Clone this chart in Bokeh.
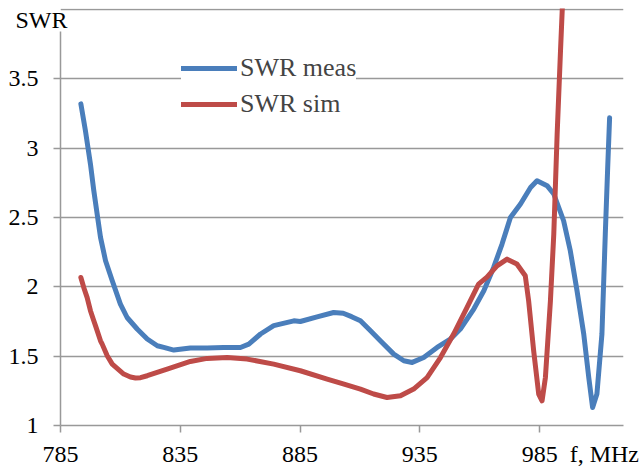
from bokeh.plotting import figure
from bokeh.models import (Range1d, FixedTicker, CustomJSTickFormatter, Legend, LegendItem)
from bokeh.embed import file_html
from bokeh.resources import INLINE

freq_meas = [793.5, 795.4, 797.5, 798.9, 800.3, 801.7, 803.8, 806.6, 810.0, 812.8, 817.0, 821.2,
             825.4, 828.1, 832.3, 839.2, 846.2, 853.1, 860.1, 863.6, 868.5, 874.0, 882.4, 885.1,
             892.1, 899.0, 903.0, 906.5, 910.2, 914.4, 918.5, 924.1, 928.3, 931.8, 936.6, 942.2,
             947.7, 951.9, 957.5, 961.7, 965.8, 969.3, 972.8, 977.0, 981.2, 983.9, 988.1, 990.9,
             995.0, 997.8, 1000.6, 1003.4, 1005.5, 1007.1, 1008.9, 1011.0, 1012.4, 1013.4, 1014.2]
swr_meas = [3.32, 3.127, 2.886, 2.694, 2.525, 2.357, 2.189, 2.044, 1.876, 1.779, 1.696, 1.624,
            1.575, 1.563, 1.544, 1.559, 1.559, 1.563, 1.563, 1.587, 1.66, 1.72, 1.755, 1.75,
            1.784, 1.815, 1.81, 1.785, 1.755, 1.683, 1.611, 1.515, 1.467, 1.455, 1.49, 1.563,
            1.623, 1.696, 1.84, 1.972, 2.14, 2.309, 2.50, 2.598, 2.717, 2.766, 2.73, 2.67,
            2.477, 2.26, 1.972, 1.66, 1.346, 1.13, 1.227, 1.66, 2.38, 2.86, 3.22]

freq_sim = [793.5, 794.7, 796.1, 797.5, 798.9, 799.6, 801.7, 802.4, 804.5, 806.6, 811.4, 814.2,
            816.3, 818.4, 821.2, 829.5, 839.2, 846.2, 854.6, 862.9, 874.0, 885.1, 896.3, 903.0,
            910.2, 915.7, 921.3, 926.9, 932.4, 938.0, 943.6, 949.1, 954.7, 959.5, 963.0, 967.2,
            971.4, 975.5, 979.0, 980.4, 982.5, 984.6, 986.0, 987.4, 989.5, 990.9, 992.3, 993.7,
            994.8]
swr_sim = [2.068, 1.996, 1.924, 1.828, 1.755, 1.72, 1.611, 1.587, 1.503, 1.443, 1.371, 1.35,
           1.343, 1.345, 1.359, 1.407, 1.462, 1.484, 1.49, 1.479, 1.443, 1.395, 1.335, 1.30,
           1.263, 1.227, 1.202, 1.214, 1.263, 1.346, 1.49, 1.66, 1.852, 2.02, 2.07, 2.152,
           2.20, 2.165, 2.08, 1.90, 1.539, 1.227, 1.178, 1.346, 1.90, 2.38, 3.10, 3.70,
           4.15]

x_ticks = [785, 835, 885, 935, 985]
y_ticks = [1, 1.5, 2, 2.5, 3, 3.5]
grid_ticks = [1, 1.5, 2, 2.5, 3, 3.5, 4]
series_names = ["SWR meas", "SWR sim"]
y_title = "SWR"
x_title = "f, MHz"
x_title_at = 1012

FONT = "'Liberation Serif'"
AXFONT = "serif"
GRID = "#999999"

p = figure(width=641, height=470, output_backend="svg", toolbar_location=None,
           x_range=Range1d(785, 1020), y_range=Range1d(1, 4.008),
           min_border_left=60, min_border_right=18, min_border_top=8, min_border_bottom=45)
p.outline_line_color = None
p.background_fill_color = "white"

p.xgrid.grid_line_color = None
p.ygrid.grid_line_color = GRID
p.ygrid.grid_line_width = 1.5
p.ygrid.ticker = FixedTicker(ticks=grid_ticks)
p.ygrid.bounds = (0.9, 4.1)

p.axis.axis_line_color = GRID
p.axis.axis_line_width = 1.5
p.axis.major_tick_out = 7
p.axis.major_tick_in = 0
p.axis.major_label_text_font = AXFONT
p.axis.major_label_text_font_size = "24px"
p.axis.major_label_text_color = "black"

# x axis: tick marks as minor ticks, the axis title sits in the tick-label row
p.xaxis.ticker = FixedTicker(ticks=x_ticks + [x_title_at], minor_ticks=x_ticks)
p.xaxis.formatter = CustomJSTickFormatter(args=dict(t=x_title, at=x_title_at),
                                          code="return tick == at ? t : String(tick);")
p.xaxis.major_tick_line_color = None
p.xaxis.minor_tick_line_color = GRID
p.xaxis.minor_tick_line_width = 1.5
p.xaxis.minor_tick_out = 7
p.xaxis.minor_tick_in = 0
p.xaxis.major_label_standoff = 8

p.yaxis.ticker = FixedTicker(ticks=y_ticks)
p.yaxis.bounds = (1, 3.84)
p.yaxis.major_tick_line_color = GRID
p.yaxis.major_tick_line_width = 1.5
p.yaxis.minor_tick_line_color = None
p.yaxis.major_label_standoff = 15
p.yaxis.formatter = CustomJSTickFormatter(code="return String(tick);")
p.yaxis.axis_label = "\n" + y_title
p.yaxis.axis_label_orientation = "horizontal"
p.yaxis.axis_label_align = "end"
p.yaxis.axis_label_standoff = -62
p.yaxis.axis_label_text_font = AXFONT
p.yaxis.axis_label_text_font_style = "normal"
p.yaxis.axis_label_text_font_size = "24px"
p.yaxis.axis_label_text_line_height = 0.85
p.yaxis.axis_label_text_color = "black"

r_meas = p.line(freq_meas, swr_meas, line_color="#4A7EBB", line_width=5,
                line_cap="round", line_join="round")
r_sim = p.line(freq_sim, swr_sim, line_color="#BE4B48", line_width=5,
               line_cap="round", line_join="round")

legend = Legend(items=[LegendItem(label=series_names[0], renderers=[r_meas]),
                       LegendItem(label=series_names[1], renderers=[r_sim])],
                location=(121, 306), margin=0, padding=10, spacing=6,
                glyph_width=56, glyph_height=30, label_height=30, label_standoff=3,
                label_text_font=FONT, label_text_font_size="26px",
                border_line_color=None, background_fill_color="white",
                background_fill_alpha=1.0)
p.add_layout(legend)

open("out.html", "w").write(file_html(p, INLINE))
